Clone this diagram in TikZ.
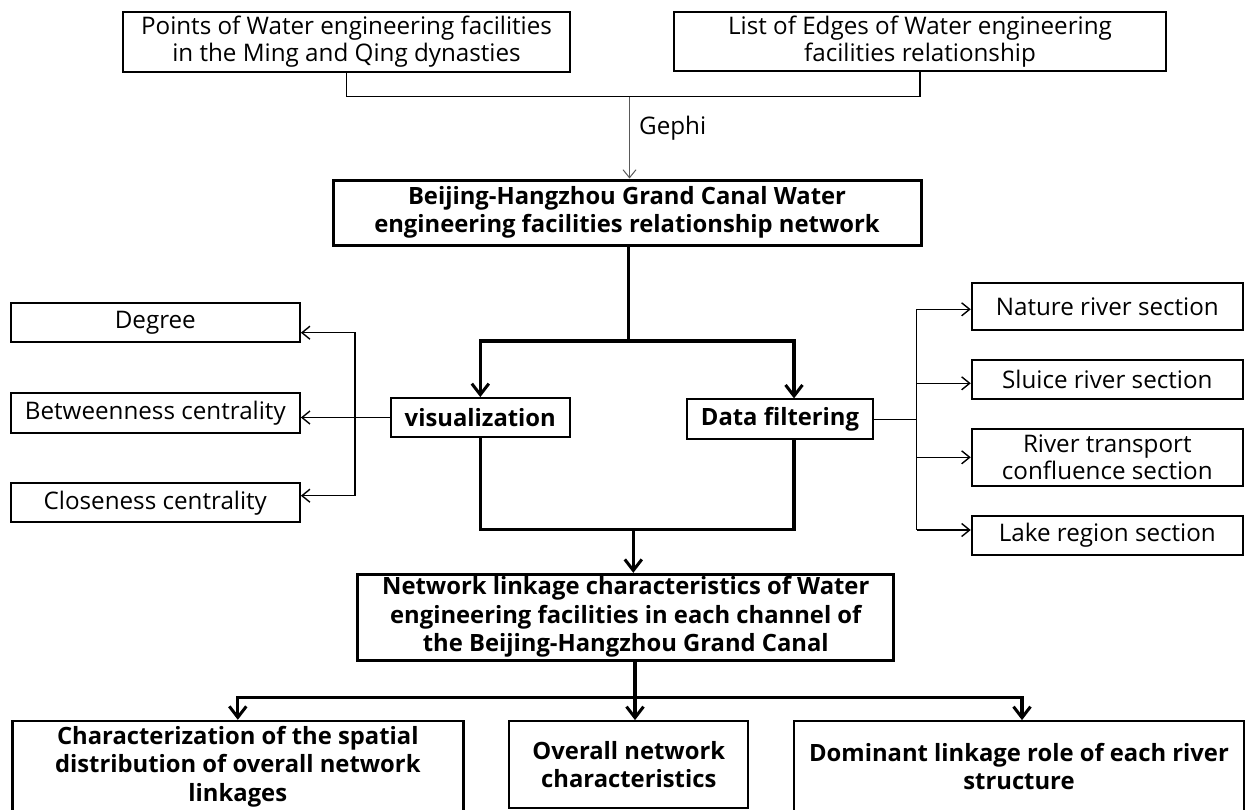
\documentclass[tikz,border=0pt]{standalone}
\usepackage{fontspec}
\setmainfont{Open Sans}
\usetikzlibrary{arrows.meta,calc}
\begin{document}
\begin{tikzpicture}[x=1pt,y=-1pt,
  box/.style={draw=black, line width=1.8pt, align=center, inner sep=0pt, font=\fontsize{24.2}{27}\selectfont},
  bbox/.style={box, line width=3pt, font=\fontsize{23.8}{28.5}\selectfont\bfseries},
  bfbox/.style={box, font=\fontsize{23.8}{28.5}\selectfont\bfseries},
  thinln/.style={line width=1.4pt},
  thinarr/.style={thinln, -{Straight Barb[length=8pt,width=13pt,line width=1.4pt]}},
  gepharr/.style={line width=1pt, draw=black!65, -{Straight Barb[length=8pt,width=13pt,line width=1pt]}},
  thickln/.style={line width=3.3pt},
  thickarr/.style={thickln, -{Straight Barb[length=11pt,width=17pt,line width=3pt]}},
]
\useasboundingbox (0,0) rectangle (1246,809);
\fill[white] (0,0) rectangle (1246,809);

% top
\node[box, minimum width=447pt, minimum height=60pt] (p1) at (346.5,41.7) {Points of Water engineering facilities\\in the Ming and Qing dynasties};
\node[box, minimum width=492pt, minimum height=59pt] (p2) at (920,41.2) {List of Edges of Water engineering\\facilities relationship};
\node[bbox, minimum width=588pt, minimum height=65pt] (net) at (627,212.5) {Beijing-Hangzhou Grand Canal Water\\engineering facilities relationship network};
\node[anchor=west, inner sep=0pt, font=\fontsize{24.2}{27}\selectfont] (geph) at (639,128) {Gephi};

% middle
\node[bfbox, minimum width=179pt, minimum height=39pt] (vis) at (480.3,417.5) {visualization};
\node[bfbox, minimum width=185.4pt, minimum height=40pt] (df) at (780,419.3) {Data filtering};

\node[box, minimum width=289.3pt, minimum height=39.6pt] (deg) at (155.3,322.5) {Degree};
\node[box, minimum width=289.3pt, minimum height=39.4pt] (bet) at (155.3,413) {Betweenness centrality};
\node[box, minimum width=289.3pt, minimum height=39pt] (clo) at (155.3,502.8) {Closeness centrality};

\node[box, minimum width=271.3pt, minimum height=47.3pt] (nat) at (1107.3,306.3) {Nature river section};
\node[box, minimum width=271.3pt, minimum height=39pt] (slu) at (1107.3,379.5) {Sluice river section};
\node[box, minimum width=271.3pt, minimum height=56.4pt] (riv) at (1107.3,457.5) {River transport\\confluence section};
\node[box, minimum width=271.3pt, minimum height=39.3pt] (lake) at (1107.3,535.3) {Lake region section};

% lower
\node[bbox, minimum width=536.3pt, minimum height=85.7pt] (net2) at (625.8,617.2) {Network linkage characteristics of Water\\engineering facilities in each channel of\\the Beijing-Hangzhou Grand Canal};
\node[bfbox, line width=2.4pt, minimum width=451pt, minimum height=91pt] (char) at (237.8,766.5) {Characterization of the spatial\\distribution of overall network\\linkages};
\node[bfbox, minimum width=239pt, minimum height=87pt] (over) at (628.8,764.5) {Overall network\\characteristics};
\node[bfbox, minimum width=450pt, minimum height=91pt] (dom) at (1019,766.5) {Dominant linkage role of each river\\structure};

% coordinates
\coordinate (tj) at (629.5,96.7);
\coordinate (j1) at (628.3,341);
\coordinate (j2) at (633.3,529.3);
\coordinate (j3) at (635,697.7);
\coordinate (lbx) at (355,332.7);
\coordinate (lby) at (355,495.7);
\coordinate (rb1) at (916.7,309.3);
\coordinate (rb2) at (916.7,383.3);
\coordinate (rb3) at (916.7,457.3);
\coordinate (rb4) at (916.7,530);

% top connectors
\draw[thinln] (p1.south) |- (tj) -| (p2.south);
\draw[gepharr] (tj) -- (tj |- net.north);

% split to vis / df
\draw[thickln] (net.south -| j1) -- (j1);
\draw[thickarr] (j1) -| (vis.north);
\draw[thickarr] (j1) -| ($(df.north)+(14,0)$);

% merge to net2
\draw[thickln] (vis.south) |- (j2) -| ($(df.south)+(14,0)$);
\draw[thickarr] (j2) -- (j2 |- net2.north);

% left bracket
\draw[thinarr] (vis.west) -- (vis.west -| bet.east);
\draw[thinarr] (lbx |- vis.west) -- (lbx) -- (lbx -| deg.east);
\draw[thinarr] (lbx |- vis.west) -- (lby) -- (lby -| clo.east);

% right bracket
\draw[thinln] (df.east) -- (df.east -| rb1);
\draw[thinln] (rb1) -- (rb4);
\draw[thinarr] (rb1) -- (rb1 -| nat.west);
\draw[thinarr] (rb2) -- (rb2 -| slu.west);
\draw[thinarr] (rb3) -- (rb3 -| riv.west);
\draw[thinarr] (rb4) -- (rb4 -| lake.west);

% bottom split
\draw[thickln] (net2.south -| j3) -- (j3);
\draw[thickarr] (j3) -| (char.north);
\draw[thickarr] (j3) -- (j3 |- over.north);
\draw[thickarr] (j3) -| ($(dom.north)+(3,0)$);
\end{tikzpicture}
\end{document}
